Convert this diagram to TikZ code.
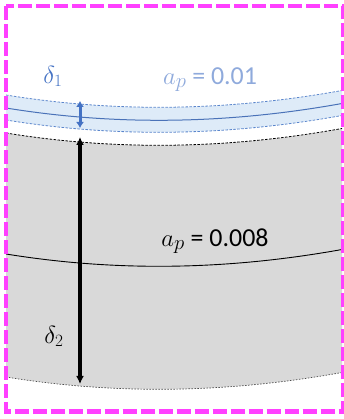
\documentclass[tikz,border=0pt]{standalone}
\usepackage{fontspec}
\setmainfont{Carlito}
\usetikzlibrary{arrows.meta}
\definecolor{bandfill}{HTML}{DEEBF8}
\definecolor{bandline}{HTML}{4A72B8}
\definecolor{bandedge}{HTML}{5B86CC}
\definecolor{lbl}{HTML}{8FAADC}
\definecolor{darkblue}{HTML}{4472C4}
\definecolor{grayfill}{HTML}{D9D9D9}
\definecolor{frame}{HTML}{FF40FF}
\newcommand{\ap}{{\fontsize{32}{34}\selectfont$a_p$}}
\tikzset{
  big/.style={font=\fontsize{26}{30}\selectfont, inner sep=0pt, anchor=base},
  greek/.style={font=\fontsize{25}{28}\selectfont, inner sep=0pt, anchor=base}
}
\begin{document}
\begin{tikzpicture}[x=1bp, y=1bp]
  \useasboundingbox (0,0) rectangle (344,419);
  \fill[grayfill] (6,286) .. controls (117,268) and (228,270) .. (342,290.5)
     -- (342,46.5) .. controls (228,26) and (117,24) .. (6,42) -- cycle;
  \draw[shift={(0,286)}, line width=0.8bp, dash pattern=on 2.5bp off 1.5bp] (6,0) .. controls (117,-18) and (228,-16) .. (342,4.5);
  \draw[shift={(0,42)}, gray!60!black, line width=0.7bp, dash pattern=on 1.5bp off 1.5bp] (6,0) .. controls (117,-18) and (228,-16) .. (342,4.5);
  \draw[shift={(0,165)}, line width=0.9bp] (6,0) .. controls (117,-18) and (228,-16) .. (342,4.5);
  \fill[bandfill] (6,324) .. controls (117,306) and (228,308) .. (342,328.5)
     -- (342,303.5) .. controls (228,283) and (117,281) .. (6,299) -- cycle;
  \draw[shift={(0,324)}, bandedge, line width=0.8bp, dash pattern=on 2.5bp off 1.5bp] (6,0) .. controls (117,-18) and (228,-16) .. (342,4.5);
  \draw[shift={(0,299)}, bandedge, line width=0.8bp, dash pattern=on 2.5bp off 1.5bp] (6,0) .. controls (117,-18) and (228,-16) .. (342,4.5);
  \draw[shift={(0,311)}, bandline, line width=1bp] (6,0) .. controls (117,-18) and (228,-16) .. (342,4.5);

  \coordinate (d1top) at (80,318);
  \coordinate (d1bot) at (80,291);
  \coordinate (d2top) at (80,282);
  \coordinate (d2bot) at (80,35);
  \draw[darkblue, line width=3bp, {Latex[length=6bp,width=8bp]}-{Latex[length=6bp,width=8bp]}] (d1top) -- (d1bot);
  \draw[line width=3.2bp, {Latex[length=8bp,width=8bp]}-{Latex[length=8bp,width=8bp]}] (d2top) -- (d2bot);

  \node[greek, text=darkblue] (delta1) at (53,336) {$\delta_1$};
  \node[big, text=lbl] (aptop) at (210,335) {\ap{} = 0.01};
  \node[big] (apmid) at (215,173) {\ap{} = 0.008};
  \node[greek] (delta2) at (54,76) {$\delta_2$};

  \draw[frame, line width=4bp, dash pattern=on 14bp off 4bp] (6,413) rectangle (342.5,7.5);
\end{tikzpicture}
\end{document}
